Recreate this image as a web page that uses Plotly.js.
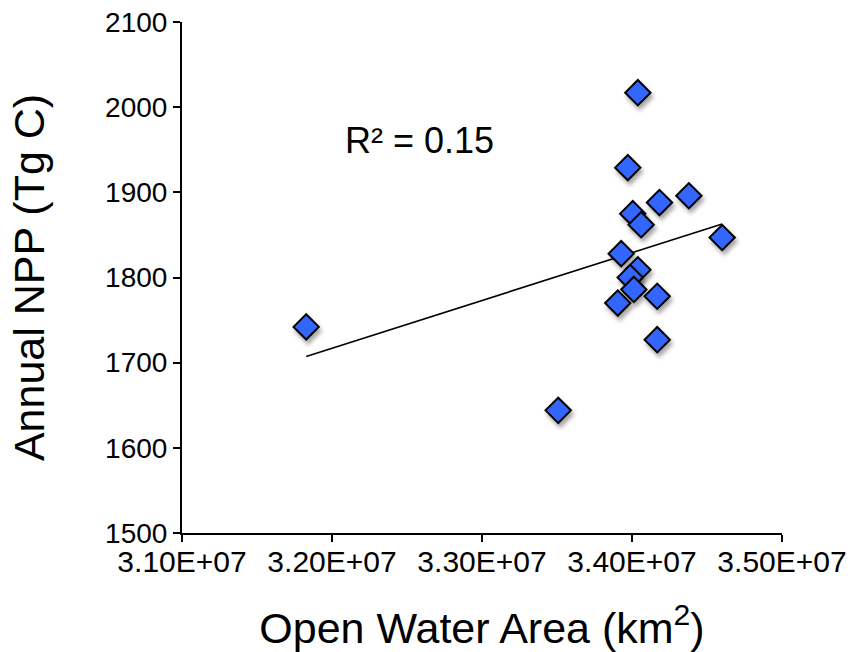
<!DOCTYPE html>
<html>
<head>
<meta charset="utf-8">
<script src="https://cdn.plot.ly/plotly-3.0.1.min.js"></script>
<style>
  html, body { margin: 0; padding: 0; background: #ffffff; }
  #chart { width: 854px; height: 652px; }
  /* soft drop shadow under each diamond */
  .scatterlayer .trace .points path { filter: drop-shadow(2px 4px 2px rgba(0,0,0,0.35)); }
</style>
</head>
<body>
<div id="chart"></div>
<script>
// Annual open water area (km²) and annual net primary production (Tg C)
const openWaterArea = [
  3.1828e7, 3.3508e7, 3.4039e7, 3.3972e7, 3.4005e7, 3.4061e7, 3.4183e7, 3.4379e7,
  3.4601e7, 3.3928e7, 3.4039e7, 3.3988e7, 3.4012e7, 3.3905e7, 3.4168e7, 3.4168e7
];
const annualNPP = [
  1742, 1644, 2017, 1929, 1875, 1862, 1888, 1896,
  1847, 1828, 1809, 1800, 1786, 1770, 1778, 1727
];

const xTickValues = [3.1e7, 3.2e7, 3.3e7, 3.4e7, 3.5e7];
const xTickLabels = ["3.10E+07", "3.20E+07", "3.30E+07", "3.40E+07", "3.50E+07"];
const yTickValues = [1500, 1600, 1700, 1800, 1900, 2000, 2100];

// ordinary least-squares fit of NPP against open water area
function linearFit(xs, ys) {
  const n = xs.length;
  const mx = xs.reduce((a, b) => a + b, 0) / n;
  const my = ys.reduce((a, b) => a + b, 0) / n;
  let sxy = 0, sxx = 0, syy = 0;
  for (let i = 0; i < n; i++) {
    const dx = xs[i] - mx, dy = ys[i] - my;
    sxy += dx * dy; sxx += dx * dx; syy += dy * dy;
  }
  const slope = sxy / sxx;
  return { slope: slope, intercept: my - slope * mx, r2: (sxy * sxy) / (sxx * syy) };
}

const fit = linearFit(openWaterArea, annualNPP);
const xMin = Math.min(...openWaterArea);
const xMax = Math.max(...openWaterArea);
const trendX = [xMin, xMax];
const trendY = trendX.map(x => fit.intercept + fit.slope * x);

const font = "Liberation Sans, Arial, Helvetica, sans-serif";

const traces = [
  {
    x: trendX, y: trendY, type: "scatter", mode: "lines",
    line: { color: "#000000", width: 1.6 },
    hoverinfo: "skip", showlegend: false
  },
  {
    x: openWaterArea, y: annualNPP, type: "scatter", mode: "markers",
    marker: {
      symbol: "diamond", size: 19.5, color: "#3366ff",
      line: { color: "#000000", width: 2 }
    },
    showlegend: false
  }
];

const axisCommon = {
  showgrid: false, zeroline: false, showline: true,
  linecolor: "#000000", linewidth: 2,
  ticks: "outside", ticklen: 7, tickwidth: 2, tickcolor: "#000000"
};

const layout = {
  width: 854, height: 652,
  margin: { l: 182, r: 72, t: 22, b: 119 },
  paper_bgcolor: "#ffffff", plot_bgcolor: "#ffffff",
  font: { family: font, color: "#000000" },
  xaxis: Object.assign({}, axisCommon, {
    range: [3.1e7, 3.5e7],
    tickmode: "array", tickvals: xTickValues, ticktext: xTickLabels,
    tickfont: { family: font, size: 30, color: "#000000" },
    ticklabelstandoff: -6,
    title: { text: "Open Water Area (km<sup>2</sup>)", font: { family: font, size: 43 }, standoff: 36 }
  }),
  yaxis: Object.assign({}, axisCommon, {
    range: [1500, 2100],
    tickmode: "array", tickvals: yTickValues,
    tickfont: { family: font, size: 28, color: "#000000" },
    title: { text: "Annual NPP (Tg C)", font: { family: font, size: 43 }, standoff: 47 }
  }),
  annotations: [{
    xref: "paper", yref: "paper", x: 0.396, y: 0.769,
    xanchor: "center", yanchor: "middle", showarrow: false,
    text: "R² = " + fit.r2.toFixed(2),
    font: { family: font, size: 36, color: "#000000" }
  }]
};

Plotly.newPlot("chart", traces, layout, { displayModeBar: false, staticPlot: true });
</script>
</body>
</html>
